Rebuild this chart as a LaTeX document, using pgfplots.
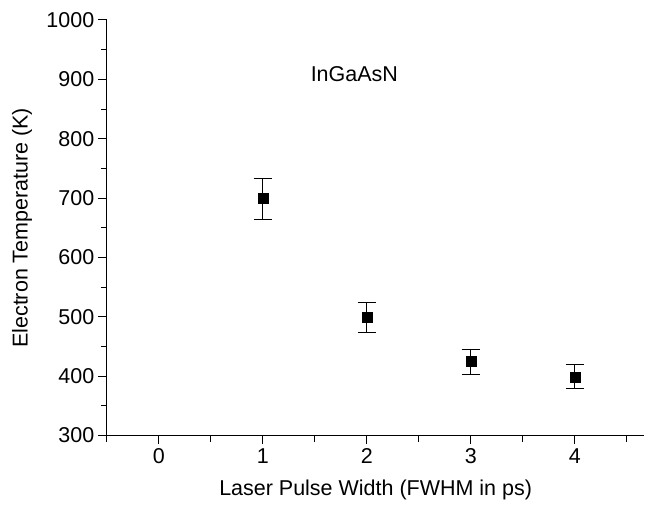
\documentclass[border=0pt]{standalone}
\usepackage{pgfplots}
\pgfplotsset{compat=1.18}
\usepackage{fontspec}
\setmainfont{Liberation Sans}
\begin{document}
\begin{tikzpicture}
\begin{axis}[
  scale only axis,
  width=538pt, height=416pt,
  xmin=-0.5, xmax=4.67,
  ymin=300, ymax=1000,
  axis x line*=bottom, axis y line*=left,
  axis line style={line width=1.2pt, -},
  xtick={0,1,2,3,4},
  minor xtick={-0.5,0.5,1.5,2.5,3.5,4.5},
  ytick={300,400,...,1000},
  minor ytick={350,450,...,950},
  xtick align=outside, ytick align=outside,
  major tick length=8.5pt, minor tick length=6pt,
  every tick/.style={black, line width=1pt},
  tick label style={font=\fontsize{21.5}{24}\selectfont, inner sep=4pt},
  /pgf/number format/assume math mode=true,
  yticklabel style={/pgf/number format/1000 sep={}},
  xlabel={Laser Pulse Width (FWHM in ps)},
  ylabel={Electron Temperature (K)},
  every axis x label/.style={at={(rel axis cs:0.5,0)}, anchor=center, yshift=-54pt,
     font=\fontsize{21.5}{24}\selectfont},
  every axis y label/.style={at={(rel axis cs:0,0.5)}, anchor=center, xshift=-85pt, rotate=90,
     font=\fontsize{21.5}{24}\selectfont},
  clip=false,
]
\addplot[only marks, mark=square*, mark size=5pt, black,
  error bars/.cd, y dir=both, y explicit,
  error bar style={line width=1pt},
  error mark options={rotate=90, mark size=9pt, line width=1pt}]
  table[x=x, y=y, y error plus=ep, y error minus=em] {
x y ep em
1 699 34 35
2 499 25 26
3 425 20 22
4 399 21 20
};
\node[font=\fontsize{21.5}{24}\selectfont, anchor=center] at (axis cs:1.88,909) {InGaAsN};
\path (rel axis cs:0,0) ++(-107pt,-75pt) coordinate (bbsw);
\path (rel axis cs:1,1) ++(0pt,20pt) coordinate (bbne);
\end{axis}
\useasboundingbox (bbsw) rectangle (bbne);
\end{tikzpicture}
\end{document}
